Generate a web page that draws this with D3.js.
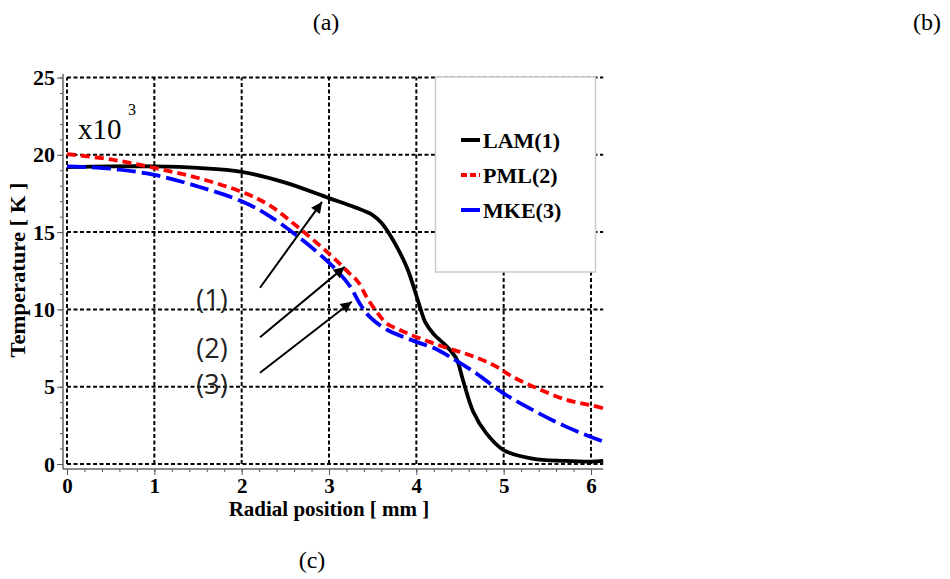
<!DOCTYPE html>
<html><head><meta charset="utf-8">
<script src="https://cdn.jsdelivr.net/npm/d3@7"></script>
<style>body{margin:0;background:#fff}svg{display:block}
.serif{font-family:"Liberation Serif","DejaVu Serif",serif}
.sans{font-family:"Open Sans","Liberation Sans",sans-serif}</style>
</head><body>
<svg id="c" width="950" height="579"></svg>
<script>
// ---- data ----
const lamX = [0, 0.5, 1, 1.5, 2, 2.5, 3, 3.3, 3.5, 3.6, 3.7, 3.8, 3.9, 4.0, 4.05, 4.1, 4.2, 4.35, 4.46, 4.53, 4.65, 4.8, 5.0, 5.33, 5.7, 6.0, 6.14];
const lamY = [19.2, 19.25, 19.25, 19.15, 18.9, 18.2, 17.2, 16.6, 16.1, 15.6, 14.8, 13.8, 12.6, 10.9, 10.0, 9.2, 8.4, 7.6, 6.8, 5.5, 3.4, 2.0, 0.9, 0.35, 0.2, 0.15, 0.2];
const pmlX = [0, 0.5, 1, 1.5, 2, 2.3, 2.67, 3.04, 3.24, 3.33, 3.43, 3.5, 3.66, 3.8, 3.92, 4.1, 4.3, 4.5, 4.7, 4.9, 5.1, 5.4, 5.72, 6.0, 6.14];
const pmlY = [20.05, 19.7, 19.15, 18.5, 17.6, 16.8, 15.2, 13.4, 12.3, 11.8, 10.8, 10.2, 9.1, 8.7, 8.4, 8.0, 7.6, 7.25, 6.85, 6.35, 5.65, 4.85, 4.15, 3.8, 3.6];
const mkeX = [0, 0.5, 1, 1.5, 2, 2.3, 2.67, 3.04, 3.24, 3.35, 3.47, 3.66, 4.0, 4.2, 4.38, 4.69, 4.99, 5.33, 5.72, 6.14];
const mkeY = [19.25, 19.1, 18.7, 17.95, 17.0, 16.1, 14.6, 12.8, 11.5, 10.4, 9.5, 8.7, 7.9, 7.5, 6.95, 5.85, 4.6, 3.5, 2.4, 1.45];
const seriesNames = ["LAM(1)", "PML(2)", "MKE(3)"];
const xTicks = [0, 1, 2, 3, 4, 5, 6];
const yTicks = [0, 5, 10, 15, 20, 25];
const arrowLabels = ["(1)", "(2)", "(3)"];
const arrowStart = [[2.21, 11.4], [2.21, 8.2], [2.21, 5.9]];
const arrowEnd = [[2.92, 16.95], [3.18, 12.75], [3.26, 10.5]];
const arrowLabelPos = [[1.66, 10.0], [1.66, 6.85], [1.66, 4.55]];
const panelLabels = ["(a)", "(b)", "(c)"];

// ---- layout ----
const svg = d3.select("#c");
const x = d3.scaleLinear().domain([0, 6]).range([67, 591]);
const y = d3.scaleLinear().domain([0, 25]).range([464, 77.5]);
const xMax = 6.14;
const axX = 63, axY = 469;

// grid
const g = svg.append("g");
g.selectAll("line.h").data(yTicks).join("line")
  .attr("x1", x(0)).attr("x2", x(xMax))
  .attr("y1", d => y(d)).attr("y2", d => y(d))
  .attr("stroke", "#000").attr("stroke-width", 2).attr("stroke-dasharray", "4,2.5");
g.selectAll("line.v").data(xTicks).join("line")
  .attr("x1", d => x(d)).attr("x2", d => x(d))
  .attr("y1", y(0)).attr("y2", y(25))
  .attr("stroke", "#000").attr("stroke-width", 2).attr("stroke-dasharray", "4,2.5");

// axes
const fmt = d3.format("d");
const yMin = svg.append("g").attr("transform", `translate(${axX},0)`)
  .call(d3.axisLeft(y).tickValues(d3.range(0, 26, 1)).tickSize(3).tickFormat(""));
yMin.select(".domain").remove();
const yMaj = svg.append("g").attr("transform", `translate(${axX},0)`)
  .call(d3.axisLeft(y).tickValues(yTicks).tickSize(6).tickPadding(2).tickFormat(fmt));
yMaj.select(".domain").remove();
yMaj.selectAll("text").attr("class", "serif")
  .attr("font-weight", "bold").attr("font-size", 22).attr("fill", "#000");

const xMin = svg.append("g").attr("transform", `translate(0,${axY})`)
  .call(d3.axisBottom(x).tickValues(d3.range(0, 31, 1).map(v => v / 5)).tickSize(3).tickFormat(""));
xMin.select(".domain").remove();
const xMaj = svg.append("g").attr("transform", `translate(0,${axY})`)
  .call(d3.axisBottom(x).tickValues(xTicks).tickSize(6).tickPadding(3).tickFormat(fmt));
xMaj.select(".domain").remove();
xMaj.selectAll("text").attr("class", "serif")
  .attr("font-weight", "bold").attr("font-size", 21).attr("fill", "#000");
[yMin, yMaj, xMin, xMaj].forEach(a => a.attr("font-family", null));
svg.selectAll(".tick line").attr("stroke", "#555");
// axis lines
svg.append("line").attr("x1", axX).attr("x2", axX).attr("y1", 74).attr("y2", axY).attr("stroke", "#666").attr("stroke-width", 1.5);
svg.append("line").attr("x1", axX).attr("x2", x(xMax)).attr("y1", axY).attr("y2", axY).attr("stroke", "#666").attr("stroke-width", 1.5);

// axis titles
svg.append("text").attr("class", "serif").attr("x", 329).attr("y", 516).attr("text-anchor", "middle")
  .attr("font-weight", "bold").attr("font-size", 21).text("Radial position [ mm ]");
svg.append("text").attr("class", "serif").attr("transform", "translate(25,270) rotate(-90)").attr("text-anchor", "middle")
  .attr("font-weight", "bold").attr("font-size", 20)
  .attr("textLength", 175).attr("lengthAdjust", "spacingAndGlyphs").text("Temperature [ K ]");

// x10^3
svg.append("text").attr("class", "serif").attr("x", 78).attr("y", 139).attr("font-size", 29).text("x10");
svg.append("text").attr("class", "serif").attr("x", 128).attr("y", 115).attr("font-size", 16).text("3");

// lines
const line = d3.line().x(d => x(d[0])).y(d => y(d[1])).curve(d3.curveCatmullRom.alpha(0.5));
const series = [
  {name: seriesNames[0], pts: d3.zip(lamX, lamY), color: "#000", dash: null},
  {name: seriesNames[1], pts: d3.zip(pmlX, pmlY), color: "#ff0000", dash: "9,5"},
  {name: seriesNames[2], pts: d3.zip(mkeX, mkeY), color: "#0000ff", dash: "19,6"}
];
svg.append("g").selectAll("path").data(series).join("path")
  .attr("d", d => line(d.pts)).attr("fill", "none").attr("stroke", d => d.color)
  .attr("stroke-width", 3.8).attr("stroke-dasharray", d => d.dash);

// arrows
svg.append("defs").append("marker").attr("id", "ah").attr("viewBox", "0 0 10 10")
  .attr("refX", 10).attr("refY", 5).attr("markerWidth", 14).attr("markerHeight", 11)
  .attr("markerUnits", "userSpaceOnUse").attr("orient", "auto")
  .append("path").attr("d", "M0,0 L10,5 L0,10 Z").attr("fill", "#000");
svg.append("g").selectAll("line").data(d3.range(3)).join("line")
  .attr("x1", i => x(arrowStart[i][0])).attr("y1", i => y(arrowStart[i][1]))
  .attr("x2", i => x(arrowEnd[i][0])).attr("y2", i => y(arrowEnd[i][1]))
  .attr("stroke", "#000").attr("stroke-width", 2).attr("marker-end", "url(#ah)");
svg.append("g").selectAll("text").data(d3.range(3)).join("text")
  .attr("class", "sans")
  .attr("x", i => x(arrowLabelPos[i][0])).attr("y", i => y(arrowLabelPos[i][1]))
  .attr("text-anchor", "middle").attr("font-size", 27).attr("fill", "#222").text(i => arrowLabels[i]);

// legend
const lg = svg.append("g");
lg.append("rect").attr("x", 435.5).attr("y", 77).attr("width", 160).attr("height", 195)
  .attr("fill", "#fff").attr("stroke", "#ccc").attr("stroke-width", 1.5);
const rowY = [140, 175, 210];
series.forEach((s, i) => {
  lg.append("line").attr("x1", 461).attr("x2", 480).attr("y1", rowY[i]).attr("y2", rowY[i])
    .attr("stroke", s.color).attr("stroke-width", 4).attr("stroke-dasharray", i === 1 ? "6,3" : null);
  lg.append("text").attr("class", "serif").attr("x", 483).attr("y", rowY[i] + 8)
    .attr("font-weight", "bold").attr("font-size", 22).text(s.name);
});

// panel labels
const panelPos = [[326, 30], [927, 30], [312, 568]];
svg.append("g").selectAll("text").data(panelLabels).join("text").attr("class", "serif")
  .attr("x", (d, i) => panelPos[i][0]).attr("y", (d, i) => panelPos[i][1])
  .attr("text-anchor", "middle").attr("font-size", 24).text(d => d);
</script>
</body></html>
